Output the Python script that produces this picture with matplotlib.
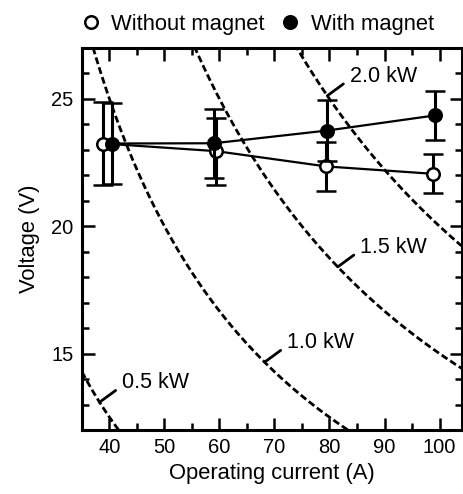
import matplotlib
matplotlib.use('Agg')
import matplotlib.pyplot as plt
import numpy as np
from matplotlib.ticker import MultipleLocator
from matplotlib.lines import Line2D

plt.rcParams['font.family'] = ['Liberation Sans', 'DejaVu Sans']

# ---- data ----
current_without = [38.9, 59.4, 79.4, 98.8]
voltage_without = [23.25, 22.95, 22.35, 22.06]
err_without = [1.62, 1.32, 0.95, 0.76]

current_with = [40.4, 59.0, 79.6, 99.1]
voltage_with = [23.25, 23.26, 23.76, 24.35]
err_with = [1.6, 1.35, 1.2, 0.98]

power_kw = [0.5, 1.0, 1.5, 2.0]
power_labels = ['0.5 kW', '1.0 kW', '1.5 kW', '2.0 kW']
label_anchor_current = [38.2, 68.2, 81.5, 79.6]

x_ticks = [40, 50, 60, 70, 80, 90, 100]
y_ticks = [15, 20, 25]

# ---- figure ----
fig = plt.figure(figsize=(4.63, 4.94), dpi=100)
ax = fig.add_axes([0.177, 0.1296, 0.8198, 0.7732])

xmin, xmax = 35, 104
ymin, ymax = 12, 27

I = np.linspace(xmin, xmax, 400)
for p in power_kw:
    ax.plot(I, p * 1000 / I, color='black', lw=2.0, linestyle=(0, (2.5, 1.2)), zorder=1)

for lab, p, ia in zip(power_labels, power_kw, label_anchor_current):
    ax.annotate(lab, xy=(ia, p * 1000 / ia), xytext=(16, 14), textcoords='offset points',
                ha='left', va='center', fontsize=15.5,
                arrowprops=dict(arrowstyle='-', lw=2.0, color='black',
                                shrinkA=3, shrinkB=0, relpos=(0, 0.35)))

ax.errorbar(current_without, voltage_without, yerr=err_without, color='black', lw=1.6,
            elinewidth=2.2, capsize=7.5, capthick=2.2, marker='o', ms=9, mfc='white',
            mec='black', mew=1.8, zorder=3)
ax.errorbar(current_with, voltage_with, yerr=err_with, color='black', lw=1.6,
            elinewidth=2.2, capsize=7.5, capthick=2.2, marker='o', ms=9, mfc='black',
            mec='black', mew=1.8, zorder=4)

ax.set_xlim(xmin, xmax)
ax.set_ylim(ymin, ymax)
ax.set_xticks(x_ticks)
ax.set_yticks(y_ticks)
ax.xaxis.set_minor_locator(MultipleLocator(5))
ax.yaxis.set_minor_locator(MultipleLocator(1))
ax.tick_params(which='both', direction='in', top=True, right=True, width=1.8,
               labelsize=14.5)
ax.tick_params(which='major', length=9, pad=6)
ax.tick_params(which='minor', length=5)
for s in ax.spines.values():
    s.set_linewidth(2.2)

ax.set_xlabel('Operating current (A)', fontsize=15.8, labelpad=4)
ax.set_ylabel('Voltage (V)', fontsize=15.8, labelpad=8)

handles = [
    Line2D([], [], ls='none', marker='o', ms=9, mfc='white', mec='black', mew=1.8),
    Line2D([], [], ls='none', marker='o', ms=9, mfc='black', mec='black', mew=1.8),
]
fig.legend(handles, ['Without magnet', 'With magnet'], ncol=2, loc='center',
           bbox_to_anchor=(0.557, 0.951), frameon=False, fontsize=15.8,
           handlelength=0.8, handletextpad=0.55, columnspacing=0.75,
           borderpad=0, borderaxespad=0)

fig.savefig('out.png', dpi=100)
